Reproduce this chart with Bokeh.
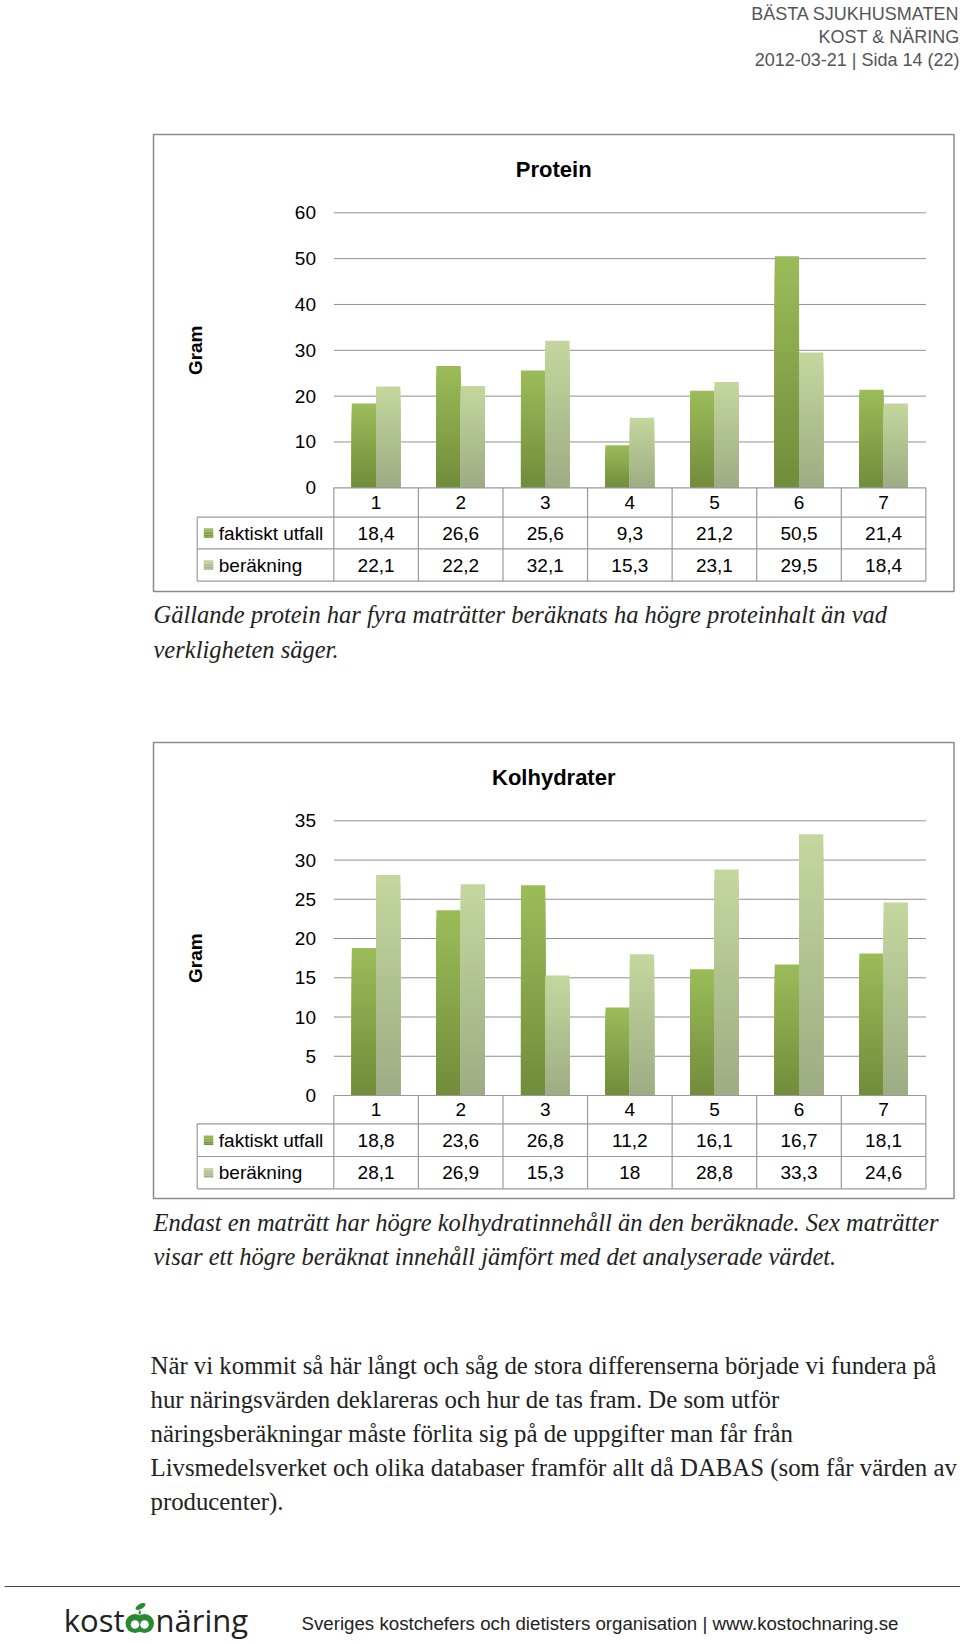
import math
from bokeh.plotting import figure
from bokeh.models import Range1d, ColumnDataSource
from bokeh.core.properties import value
from bokeh.embed import file_html
from bokeh.resources import INLINE

# ---------------- data ----------------
categories = ["1", "2", "3", "4", "5", "6", "7"]
series_names = ["faktiskt utfall", "beräkning"]
protein_faktiskt = [18.4, 26.6, 25.6, 9.3, 21.2, 50.5, 21.4]
protein_berakning = [22.1, 22.2, 32.1, 15.3, 23.1, 29.5, 18.4]
kolhydrater_faktiskt = [18.8, 23.6, 26.8, 11.2, 16.1, 16.7, 18.1]
kolhydrater_berakning = [28.1, 26.9, 15.3, 18.0, 28.8, 33.3, 24.6]
protein_ticks = [0, 10, 20, 30, 40, 50, 60]
kolhydrater_ticks = [0, 5, 10, 15, 20, 25, 30, 35]
chart_titles = ["Protein", "Kolhydrater"]
y_axis_label = "Gram"

header_lines = ["BÄSTA SJUKHUSMATEN", "KOST & NÄRING", "2012-03-21 | Sida 14 (22)"]
caption1 = ["Gällande protein har fyra maträtter beräknats ha högre proteinhalt än vad",
            "verkligheten säger."]
caption2 = ["Endast en maträtt har högre kolhydratinnehåll än den beräknade. Sex maträtter",
            "visar ett högre beräknat innehåll jämfört med det analyserade värdet."]
paragraph = ["När vi kommit så här långt och såg de stora differenserna började vi fundera på",
             "hur näringsvärden deklareras och hur de tas fram. De som utför",
             "näringsberäkningar måste förlita sig på de uppgifter man får från",
             "Livsmedelsverket och olika databaser framför allt då DABAS (som får värden av",
             "producenter)."]
footer_text = "Sveriges kostchefers och dietisters organisation | www.kostochnaring.se"
logo_words = ["kost", "näring"]

# ---------------- layout / style ----------------
PAGE_L, PAGE_T, PAGE_R, PAGE_B = 0, 0, 960, 1644
PLOT_L, PLOT_R = 333.3, 925.4
TABLE_L = 196.7
COL_W = (PLOT_R - PLOT_L) / len(categories)
BAR_W = 0.287
SANS = value("Liberation Sans")
SERIF = value("Liberation Serif")
GRID_COL = "#8f8f8f"
TABLE_COL = "#9a9a9a"
BOX_COL = "#8a8a8a"
FAKT_TOP, FAKT_BOT = "#9cbc5a", "#718c3a"
BER_TOP, BER_BOT = "#c4d79e", "#9dac83"
LOGO_GREEN = "#2a8a32"

p = figure(width=PAGE_R - PAGE_L, height=PAGE_B - PAGE_T, x_range=Range1d(PAGE_L, PAGE_R),
           y_range=Range1d(PAGE_B, PAGE_T), output_backend="svg",
           toolbar_location=None, min_border=0, x_axis_location=None,
           y_axis_location=None, outline_line_color=None,
           background_fill_color="white", border_fill_color="white")
p.grid.visible = False


def cat_v(px):
    return (px - PLOT_L) / COL_W + 0.5


p.extra_x_ranges = {"cat": Range1d(cat_v(PAGE_L), cat_v(PAGE_R))}


def hex2rgb(h):
    h = h.lstrip("#")
    return tuple(int(h[i:i + 2], 16) for i in (0, 2, 4))


def mix(c0, c1, f):
    a, b = hex2rgb(c0), hex2rgb(c1)
    return "#%02x%02x%02x" % tuple(int(round(a[i] + (b[i] - a[i]) * f)) for i in range(3))


def gradient_source(xs, vals, top_col, bot_col, n=24):
    X, T, C = [], [], []
    for k in range(n):
        frac = (n - k - 0.5) / n
        col = mix(bot_col, top_col, frac)
        for x, v in zip(xs, vals):
            X.append(x)
            T.append(v * (n - k) / n)
            C.append(col)
    return ColumnDataSource(dict(x=X, top=T, color=C))


def fmt(v):
    if float(v).is_integer():
        return str(int(v))
    return ("%.1f" % v).replace(".", ",")


extra_y = {}
charts = [
    dict(name="p1", title=chart_titles[0], fakt=protein_faktiskt, ber=protein_berakning,
         ticks=protein_ticks, box=(153, 134, 953.5, 591), title_y=169.3, zero_y=487.3,
         top_y=212.3, rows=[487.3, 516.7, 548.3, 580.7]),
    dict(name="p2", title=chart_titles[1], fakt=kolhydrater_faktiskt, ber=kolhydrater_berakning,
         ticks=kolhydrater_ticks, box=(153, 742, 953.5, 1198), title_y=777.3, zero_y=1095.0,
         top_y=820.3, rows=[1095.0, 1123.3, 1156.0, 1188.3]),
]

for c in charts:
    ppu = (c["zero_y"] - c["top_y"]) / c["ticks"][-1]
    extra_y[c["name"]] = Range1d((c["zero_y"] - PAGE_B) / ppu, (c["zero_y"] - PAGE_T) / ppu)
p.extra_y_ranges = extra_y

xs = [i + 1 for i in range(len(categories))]

for c in charts:
    yn = c["name"]
    l, t, r, b = c["box"]
    rows = c["rows"]
    # box
    p.quad(left=[l], right=[r], top=[t], bottom=[b], fill_color=None,
           line_color=BOX_COL, line_width=1.5)
    # title
    p.text(x=[(l + r) / 2], y=[c["title_y"]], text=[c["title"]], text_font=SANS,
           text_font_size="22px", text_font_style="bold", text_align="center",
           text_baseline="middle", text_color="#000000")
    # y axis label
    p.text(x=[195], y=[(c["zero_y"] + c["top_y"]) / 2], text=[y_axis_label], text_font=SANS,
           text_font_size="19px", text_font_style="bold", text_align="center",
           text_baseline="middle", angle=math.pi / 2, text_color="#000000")
    # gridlines
    gt = c["ticks"][1:]
    p.segment(x0=[0.5] * len(gt), x1=[len(categories) + 0.5] * len(gt), y0=gt, y1=gt,
              x_range_name="cat", y_range_name=yn, line_color=GRID_COL, line_width=1)
    # tick labels
    p.text(x=[315.5] * len(c["ticks"]), y=c["ticks"], text=[str(v) for v in c["ticks"]],
           y_range_name=yn, text_font=SANS, text_font_size="19px", text_align="right",
           text_baseline="middle", text_color="#000000")
    # bars
    for vals, off, tc, bc in [(c["fakt"], -BAR_W / 2, FAKT_TOP, FAKT_BOT),
                              (c["ber"], BAR_W / 2, BER_TOP, BER_BOT)]:
        src = gradient_source([x + off for x in xs], vals, tc, bc)
        p.vbar(x="x", top="top", bottom=0, width=BAR_W, source=src, fill_color="color",
               line_color=None, x_range_name="cat", y_range_name=yn)
    # table lines
    nb = len(categories) + 1
    bx = [k + 0.5 for k in range(nb)]
    p.segment(x0=bx, x1=bx, y0=[rows[0]] * nb, y1=[rows[3]] * nb, x_range_name="cat",
              line_color=TABLE_COL, line_width=1.2)
    p.segment(x0=[TABLE_L], x1=[TABLE_L], y0=[rows[1]], y1=[rows[3]],
              line_color=TABLE_COL, line_width=1.2)
    p.segment(x0=[PLOT_L, TABLE_L, TABLE_L, TABLE_L], x1=[PLOT_R] * 4,
              y0=rows, y1=rows, line_color=TABLE_COL, line_width=1.2)
    # header row
    hy = (rows[0] + rows[1]) / 2
    p.text(x=xs, y=[hy] * len(xs), text=categories, x_range_name="cat", text_font=SANS,
           text_font_size="19px", text_align="center", text_baseline="middle",
           text_color="#000000")
    # data rows
    for ri, (nm, vals, tc, bc) in enumerate([(series_names[0], c["fakt"], FAKT_TOP, FAKT_BOT),
                                             (series_names[1], c["ber"], BER_TOP, BER_BOT)]):
        ry = (rows[ri + 1] + rows[ri + 2]) / 2
        p.text(x=xs, y=[ry] * len(xs), text=[fmt(v) for v in vals], x_range_name="cat",
               text_font=SANS, text_font_size="19px", text_align="center",
               text_baseline="middle", text_color="#000000")
        # legend key with gradient
        nk = 6
        for k in range(nk):
            f = (nk - k - 0.5) / nk
            y_top = ry - 4.75 + 9.5 * k / nk
            y_bot = ry - 4.75 + 9.5 * (k + 1) / nk
            p.quad(left=[203.3], right=[212.8], top=[y_top], bottom=[y_bot],
                   fill_color=mix(bc, tc, f), line_color=None)
        p.text(x=[218.3], y=[ry], text=[nm], text_font=SANS, text_font_size="19px",
               text_align="left", text_baseline="middle", text_color="#000000")

# ---------------- page texts ----------------
p.text(x=[959] * 3, y=[13.6, 36.7, 59.7], text=header_lines, text_font=SANS,
       text_font_size="18px", text_align="right", text_baseline="middle", text_color="#555555")

p.text(x=[153] * 2, y=[614, 648.7], text=caption1, text_font=SERIF, text_font_size="24.5px",
       text_font_style="italic", text_align="left", text_baseline="middle", text_color="#222222")
p.text(x=[153] * 2, y=[1222, 1255.5], text=caption2, text_font=SERIF, text_font_size="24.5px",
       text_font_style="italic", text_align="left", text_baseline="middle", text_color="#222222")
p.text(x=[150] * 5, y=[1364.5, 1399, 1432.6, 1467, 1500.7], text=paragraph, text_font=SERIF,
       text_font_size="24.8px", text_align="left", text_baseline="middle", text_color="#222222")

# footer
p.segment(x0=[4], x1=[PAGE_R], y0=[1586], y1=[1586], line_color="#444444", line_width=1)
p.text(x=[124], y=[1619], text=[logo_words[0]], text_font=value("Open Sans"),
       text_font_size="31px", text_align="right", text_baseline="middle",
       text_color="#222222")
p.text(x=[155], y=[1619], text=[logo_words[1]], text_font=value("Open Sans"),
       text_font_size="31px", text_align="left", text_baseline="middle",
       text_color="#222222")
# apple mark of the logo
p.scatter(x=[134.5, 144], y=[1623, 1623], size=19, marker="circle",
          fill_color=LOGO_GREEN, line_color=None)
p.scatter(x=[134.5, 144], y=[1624, 1624], size=8.5, marker="circle",
          fill_color="white", line_color=None)
p.segment(x0=[139.2], x1=[139.2], y0=[1610], y1=[1614], line_color=LOGO_GREEN, line_width=2)
p.ellipse(x=[140], y=[1606], width=11, height=5, angle=0.5, fill_color=LOGO_GREEN,
          line_color=None)
p.text(x=[301], y=[1623], text=[footer_text], text_font=SANS, text_font_size="18.7px",
       text_align="left", text_baseline="middle", text_color="#222222")

open("out.html", "w").write(file_html(p, INLINE))
